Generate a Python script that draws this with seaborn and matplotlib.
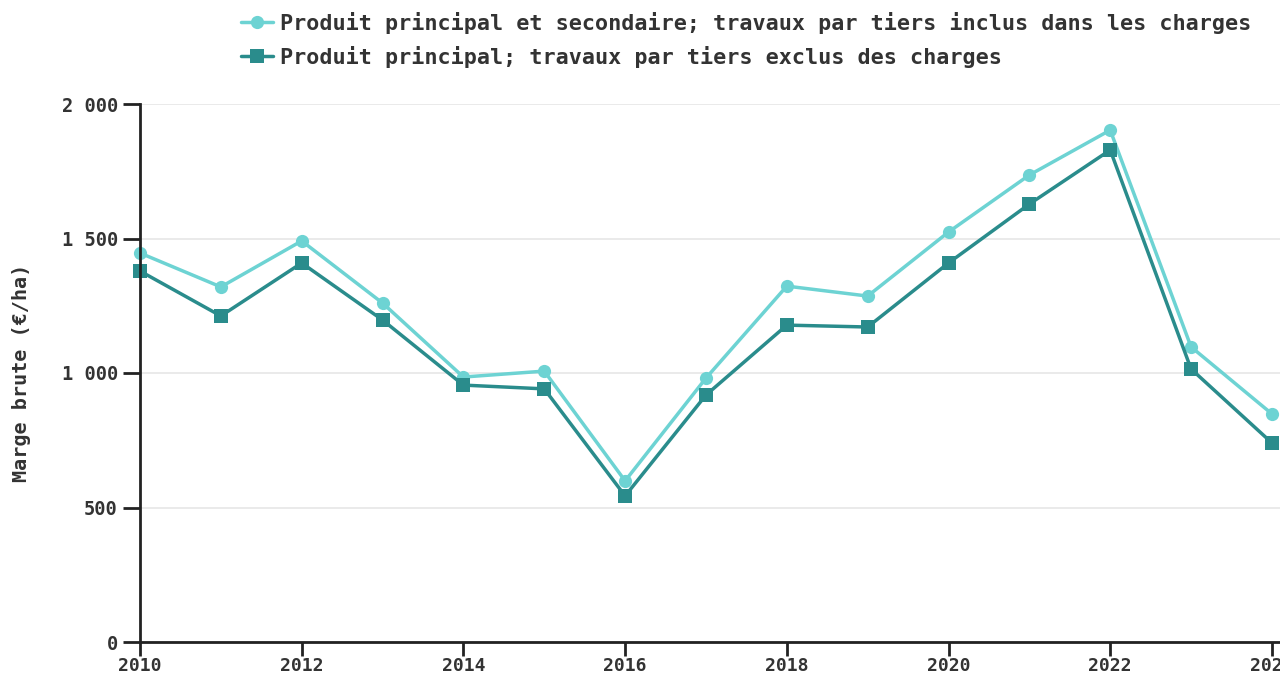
import matplotlib
matplotlib.use("Agg")
import matplotlib.pyplot as plt
import pandas as pd
import seaborn as sns

years = list(range(2010, 2025))
incl = [1446, 1320, 1491, 1260, 985, 1007, 599, 981, 1323, 1286, 1524, 1736, 1903, 1097, 848]
excl = [1379, 1212, 1409, 1197, 955, 941, 543, 918, 1178, 1171, 1409, 1628, 1829, 1015, 740]
labels = ["Produit principal et secondaire; travaux par tiers inclus dans les charges",
          "Produit principal; travaux par tiers exclus des charges"]
colors = ["#6dd3d3", "#2a8c8c"]

df = pd.concat([
    pd.DataFrame({"annee": years, "marge": incl, "serie": labels[0]}),
    pd.DataFrame({"annee": years, "marge": excl, "serie": labels[1]}),
])

sns.set_style("ticks")
plt.rcParams["font.family"] = ["DejaVu Sans Mono", "DejaVu Sans"]
plt.rcParams["font.weight"] = "bold"

fig = plt.figure(figsize=(12.8, 6.79), dpi=100)
ax = fig.add_axes([140 / 1280, 1 - 642 / 679, 1 - 140 / 1280, (642 - 104) / 679])

sns.lineplot(data=df, x="annee", y="marge", hue="serie", style="serie",
             palette=colors, markers=["o", "s"], dashes=False, markersize=9.5,
             markeredgewidth=0, linewidth=2.5, ax=ax, clip_on=False)

ax.set_xlim(2010, 2024.1)
ax.set_ylim(0, 2000)
ax.set_xticks(range(2010, 2025, 2))
ax.set_yticks([0, 500, 1000, 1500, 2000])
ax.set_yticklabels(["0", "500", "1 000", "1 500", "2 000"])
ax.yaxis.grid(True, color="#e6e6e6", linewidth=1.2)
ax.xaxis.grid(False)
for s in ["top", "right"]:
    ax.spines[s].set_visible(False)
for s in ["left", "bottom"]:
    ax.spines[s].set_color("#222222")
    ax.spines[s].set_linewidth(2)
ax.tick_params(axis="y", direction="out", length=12, width=2, color="#222222",
               labelsize=13.5, labelcolor="#333333", pad=4)
ax.tick_params(axis="x", direction="out", length=10, width=2, color="#222222",
               labelsize=13, labelcolor="#333333", pad=1)
ax.set_xlabel("")
ax.set_ylabel("Marge brute (€/ha)", fontsize=14.5, fontweight="bold", color="#333333", labelpad=22)

ax.legend(loc="upper left", bbox_to_anchor=(232 / 1280, 0.995), bbox_transform=fig.transFigure,
          frameon=False, fontsize=15.7, handlelength=1.5, handletextpad=0.3, labelspacing=0.55,
          labelcolor="#333333", borderaxespad=0)

fig.savefig("out.png", dpi=100)
